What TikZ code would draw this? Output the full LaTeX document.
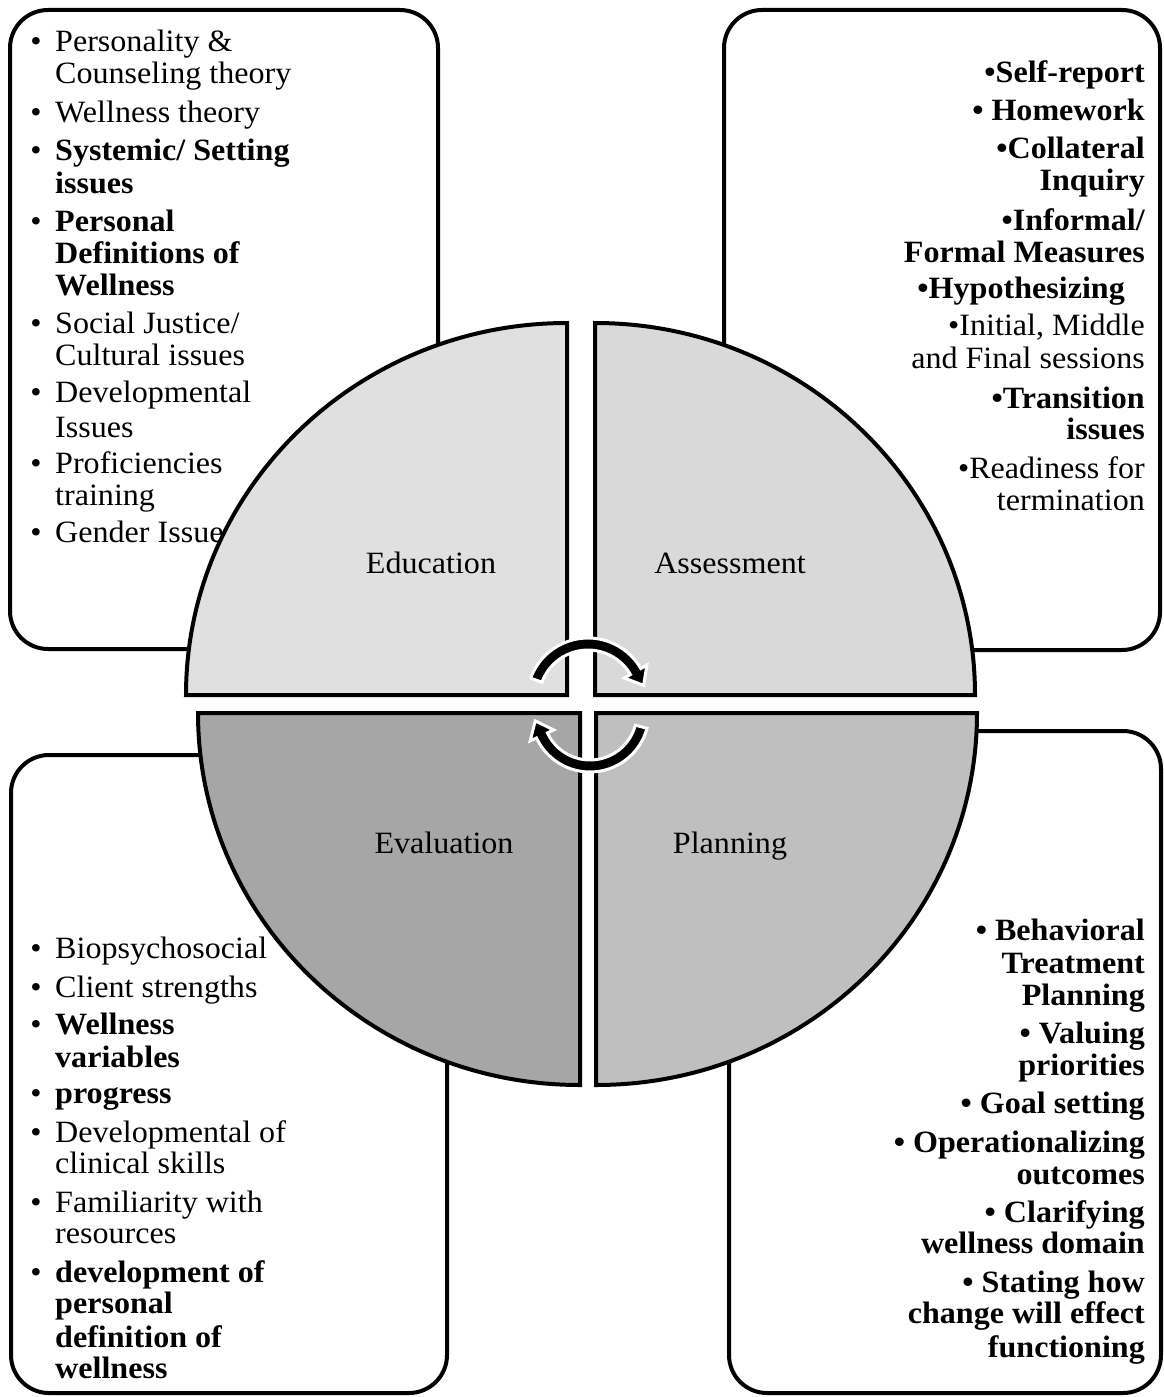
\documentclass[tikz,border=0pt]{standalone}
\usepackage{fontspec}
\setmainfont[FakeStretch=1.035]{Liberation Serif}
\usetikzlibrary{calc}
\definecolor{eduFill}{HTML}{E0E0E0}
\definecolor{assFill}{HTML}{D9D9D9}
\definecolor{evaFill}{HTML}{A6A6A6}
\definecolor{plaFill}{HTML}{BFBFBF}
\begin{document}
\begin{tikzpicture}[x=1pt,y=-1pt,
  panel/.style={draw=black, line width=4pt, fill=white, rounded corners=38pt},
  quad/.style={draw=black, line width=4pt, line join=miter},
  item/.style={inner sep=0pt, font=\fontsize{31}{36}\selectfont},
  qlabel/.style={inner sep=0pt, anchor=base, font=\fontsize{31}{36}\selectfont},
  cyclearrow/.style={draw=white, line width=3pt, fill=black, line join=miter}]
\useasboundingbox (0,0) rectangle (1163,1397);

% rounded panels behind the wheel
\draw[panel] (10,10) rectangle (438,649);
\draw[panel] (724,10) rectangle (1160,650);
\draw[panel] (11,755) rectangle (447,1393);
\draw[panel] (729,731) rectangle (1161,1393);

% top-left panel: education topics
\foreach \t/\y [count=\i] in {{Personality \&}/52, {Counseling theory}/83,
    {Wellness theory}/122, {\bfseries Systemic/ Setting}/160, {\bfseries issues}/193,
    {\bfseries Personal}/231, {\bfseries Definitions of}/263, {\bfseries Wellness}/295,
    {Social Justice/}/333, {Cultural issues}/365, {Developmental}/402, {Issues}/437,
    {Proficiencies}/473, {training}/505, {Gender Issue}/542}
  \node[item, anchor=base west] (tl-\i) at (55,\y) {\t};
\foreach \y [count=\i] in {52,122,160,231,333,402,473,542}
  \node[item, anchor=base] (tlb-\i) at (36,\y) {•};

% top-right panel: assessment topics
\foreach \t/\y/\x [count=\i] in {{\bfseries •Self-report}/82/1145, {\bfseries • Homework}/120/1145,
    {\bfseries •Collateral}/158/1145, {\bfseries Inquiry}/190/1145,
    {\bfseries •Informal/}/230/1145, {\bfseries Formal Measures}/262/1145,
    {\bfseries •Hypothesizing}/298/1125, {•Initial, Middle}/335/1145,
    {and Final sessions}/368/1145, {\bfseries •Transition}/408/1145,
    {\bfseries issues}/439/1145, {•Readiness for}/478/1145, {termination}/510/1145}
  \node[item, anchor=base east] (tr-\i) at (\x,\y) {\t};

% bottom-left panel: evaluation topics
\foreach \t/\y [count=\i] in {{Biopsychosocial}/958, {Client strengths}/997,
    {\bfseries Wellness}/1034, {\bfseries variables}/1067, {\bfseries progress}/1103,
    {Developmental of}/1142, {clinical skills}/1173, {Familiarity with}/1212,
    {resources}/1243, {\bfseries development of}/1282, {\bfseries personal}/1313,
    {\bfseries definition of}/1347, {\bfseries wellness}/1378}
  \node[item, anchor=base west] (bl-\i) at (55,\y) {\t};
\foreach \y [count=\i] in {958,997,1034,1103,1142,1212,1282}
  \node[item, anchor=base] (blb-\i) at (36,\y) {•};

% bottom-right panel: planning topics
\foreach \t/\y [count=\i] in {{• Behavioral}/940, {Treatment}/973, {Planning}/1005,
    {• Valuing}/1043, {priorities}/1075, {• Goal setting}/1113,
    {• Operationalizing}/1152, {outcomes}/1184, {• Clarifying}/1222,
    {wellness domain}/1253, {• Stating how}/1292, {change will effect}/1323,
    {functioning}/1357}
  \node[item, anchor=base east, font=\fontsize{31}{36}\selectfont\bfseries] (br-\i) at (1145,\y) {\t};

% the four quarters of the wheel
\draw[quad, fill=eduFill] (567,695) -- (186,695)
  arc[start angle=180, end angle=270, x radius=381, y radius=372] -- cycle;
\draw[quad, fill=assFill] (595,695) -- (595,323)
  arc[start angle=270, end angle=360, x radius=380, y radius=372] -- cycle;
\draw[quad, fill=evaFill] (580,713) -- (198,713)
  arc[start angle=180, end angle=90, x radius=382, y radius=372] -- cycle;
\draw[quad, fill=plaFill] (596,713) -- (977,713)
  arc[start angle=0, end angle=90, x radius=381, y radius=372] -- cycle;

\node[qlabel] (education) at (431,573) {Education};
\node[qlabel] (assessment) at (730,573) {Assessment};
\node[qlabel] (evaluation) at (444,853) {Evaluation};
\node[qlabel] (planning) at (730,853) {Planning};

% circular arrows in the hub
\coordinate (ca) at (588,699);
\coordinate (cb) at (590,713);
\draw[cyclearrow] ($(ca)+(-160:61)$) arc[start angle=-160, end angle=-30, radius=61]
  -- ($(ca)+(-30:68)$) -- ($(ca)+(-30:55)+(60:16)$) -- ($(ca)+(-30:42)$)
  -- ($(ca)+(-30:49)$) arc[start angle=-30, end angle=-160, radius=49] -- cycle;
\draw[cyclearrow] ($(cb)+(15:59)$) arc[start angle=15, end angle=155, radius=59]
  -- ($(cb)+(155:66)$) -- ($(cb)+(155:53)+(245:16)$) -- ($(cb)+(155:40)$)
  -- ($(cb)+(155:47)$) arc[start angle=155, end angle=15, radius=47] -- cycle;
\end{tikzpicture}
\end{document}
